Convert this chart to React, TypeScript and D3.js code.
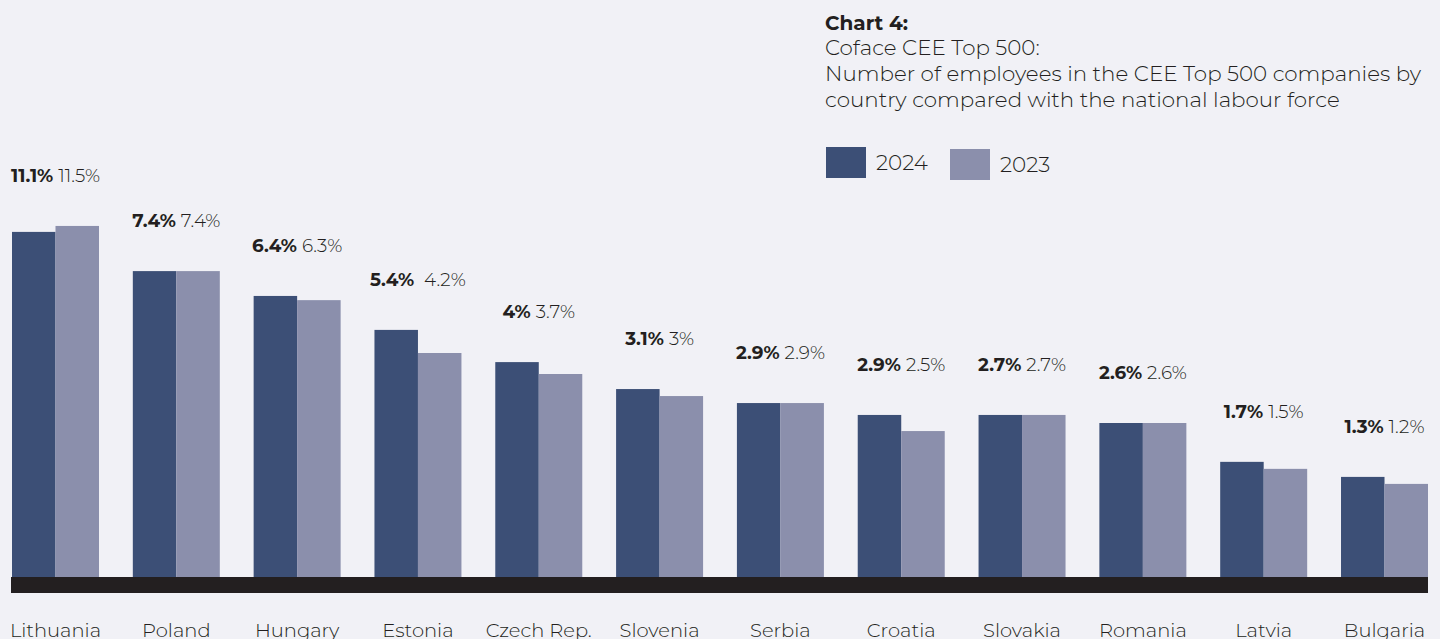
import React from "react";
import * as d3 from "d3";

const countries = ["Lithuania", "Poland", "Hungary", "Estonia", "Czech Rep.", "Slovenia", "Serbia", "Croatia", "Slovakia", "Romania", "Latvia", "Bulgaria"];
const labels2024 = ["11.1%", "7.4%", "6.4%", "5.4%", "4%", "3.1%", "2.9%", "2.9%", "2.7%", "2.6%", "1.7%", "1.3%"];
const labels2023 = ["11.5%", "7.4%", "6.3%", "4.2%", "3.7%", "3%", "2.9%", "2.5%", "2.7%", "2.6%", "1.5%", "1.2%"];
// bar lengths as drawn in the source graphic (index, 0-100 scale)
const bars2024 = [98.6, 87.4, 80.3, 70.6, 61.4, 53.7, 49.7, 46.3, 46.3, 44.0, 32.9, 28.6];
const bars2023 = [100.3, 87.4, 79.1, 64.0, 58.0, 51.7, 49.7, 41.7, 46.3, 44.0, 30.9, 26.6];
const seriesNames = ["2024", "2023"];
const titleLines = ["Coface CEE Top 500:", "Number of employees in the CEE Top 500 companies by", "country compared with the national labour force"];

const W = 1440;
const H = 639;
const C_DARK = "#3c4f76";
const C_LIGHT = "#8b8fac";
const C_TEXT = "#231f20";
const BG = "#f1f1f6";
const FONT = "Montserrat, 'Open Sans', Lato, sans-serif";

export default function App() {
  const baseY = 577;
  const x0 = d3.scaleBand<string>().domain(countries).range([12, 1428]).paddingInner(0.28).paddingOuter(0);
  const x1 = d3.scaleBand<string>().domain(seriesNames).range([0, x0.bandwidth()]).padding(0);
  const y = d3.scaleLinear().domain([0, 100]).range([baseY, baseY - 350]);

  return (
    <div style={{ position: "fixed", left: 0, top: 0, width: W, height: H, background: BG }}>
      <svg width={W} height={H} style={{ display: "block", fontFamily: FONT }}>
        <rect x={0} y={0} width={W} height={H} fill={BG} />
        {/* title */}
        <text x={825} y={30} fontSize={20} fontWeight={700} fill={C_TEXT}>Chart 4:</text>
        {titleLines.map((t, i) => (
          <text key={i} x={825} y={55 + i * 26} fontSize={21.4} fontWeight={300} fill={C_TEXT}>{t}</text>
        ))}
        {/* legend */}
        {seriesNames.map((s, i) => (
          <g key={s} transform={`translate(${826 + i * 124},${147 + i * 2})`}>
            <rect width={40} height={31} fill={i === 0 ? C_DARK : C_LIGHT} />
            <text x={50} y={23} fontSize={21.5} fontWeight={300} fill={C_TEXT}>{s}</text>
          </g>
        ))}
        {/* bars */}
        {countries.map((c, i) => {
          const gx = x0(c)!;
          const v = [bars2024[i], bars2023[i]];
          const top = y(Math.max(v[0], v[1]));
          return (
            <g key={c}>
              {seriesNames.map((s, j) => (
                <rect key={s} x={gx + x1(s)!} y={y(v[j])} width={x1.bandwidth()} height={baseY - y(v[j])} fill={j === 0 ? C_DARK : C_LIGHT} />
              ))}
              <text x={gx + x0.bandwidth() / 2} y={top - 44} textAnchor="middle" fontSize={18.4} fill={C_TEXT}>
                <tspan fontWeight={700}>{labels2024[i]}</tspan>
                <tspan fontWeight={300} dx={c === "Estonia" ? 10 : 5}>{labels2023[i]}</tspan>
              </text>
              <text x={gx + x0.bandwidth() / 2} y={637} textAnchor="middle" fontSize={19.5} fontWeight={300} fill={C_TEXT}>{c}</text>
            </g>
          );
        })}
        {/* baseline */}
        <rect x={11} y={baseY} width={1417} height={16} fill={C_TEXT} />
      </svg>
    </div>
  );
}
